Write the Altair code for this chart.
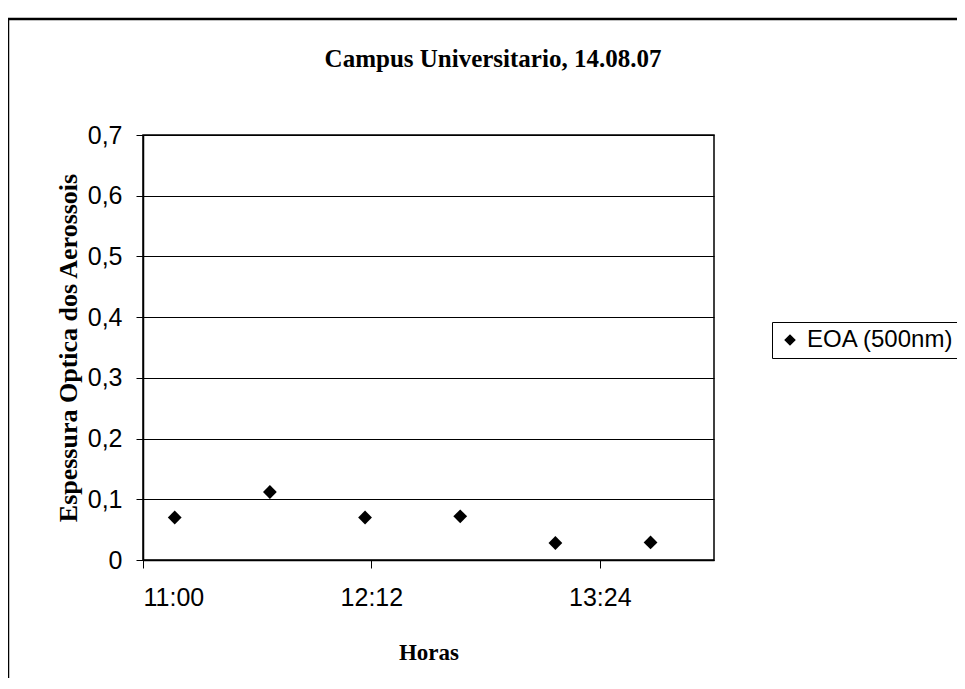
import altair as alt
import pandas as pd

# data
times = ["11:10", "11:40", "12:10", "12:40", "13:10", "13:40"]
eoa = [0.070, 0.112, 0.070, 0.072, 0.028, 0.029]
series_name = "EOA (500nm)"
chart_title = "Campus Universitario, 14.08.07"
x_tick_minutes = [660, 732, 804]          # 11:00, 12:12, 13:24
x_domain = [660, 840]                      # 11:00 .. 14:00
y_ticks = [0, 0.1, 0.2, 0.3, 0.4, 0.5, 0.6, 0.7]

def to_min(t):
    h, m = t.split(":")
    return int(h) * 60 + int(m)

df = pd.DataFrame({
    "Hora": times,
    "Minutos": [to_min(t) for t in times],
    "EOA": eoa,
    "Serie": [series_name] * len(times),
})

SERIF = "Liberation Serif"
SANS = "Liberation Sans"

W, H = 571, 425
PAD = {"left": 135, "top": 127, "right": 243, "bottom": 118}

points = alt.Chart(df).mark_point(shape="diamond", filled=True, size=190, opacity=1).encode(
    x=alt.X("Minutos:Q",
            scale=alt.Scale(domain=x_domain, nice=False, zero=False),
            axis=alt.Axis(values=x_tick_minutes, grid=False,
                          labelExpr="floor(datum.value/60) + ':' + (datum.value%60 < 10 ? '0' : '') + (datum.value%60)",
                          title="Horas", tickSize=8, labelPadding=17, titlePadding=31,
                          titleFontSize=23)),
    y=alt.Y("EOA:Q",
            scale=alt.Scale(domain=[0, 0.7], nice=False),
            axis=alt.Axis(values=y_ticks, grid=True, tickSize=7, labelPadding=14,
                          labelExpr="replace(format(datum.value, '.1~f'), '.', ',')",
                          title="Espessura Optica dos Aerossois", titlePadding=6,
                          titleFontSize=26)),
    color=alt.Color("Serie:N",
                    scale=alt.Scale(domain=[series_name], range=["black"]),
                    legend=alt.Legend(title=None, orient="none", legendX=629, legendY=187,
                                      strokeColor="black", padding=6, symbolType="diamond",
                                      symbolSize=90, symbolFillColor="black", symbolStrokeColor="black",
                                      labelFont=SANS, labelFontSize=24, labelColor="black",
                                      labelOffset=5)),
)

frame = alt.Chart(pd.DataFrame({"f": [0]})).mark_rect(fill=None, stroke="black", strokeWidth=2.5).encode(
    x=alt.value(-135), x2=alt.value(1000), y=alt.value(-116), y2=alt.value(700)
)

title = alt.Chart(pd.DataFrame({"t": [chart_title]})).mark_text(
    font=SERIF, fontSize=25, fontWeight="bold", color="black", align="center", baseline="alphabetic"
).encode(text="t:N", x=alt.value(350), y=alt.value(-68))

chart = alt.layer(frame, points, title).properties(
    width=W, height=H,
    autosize=alt.AutoSizeParams(type="none"),
    padding=PAD,
    background="white",
).configure_view(
    stroke="black", strokeWidth=1.5
).configure_axis(
    domainColor="black", tickColor="black", gridColor="black", gridWidth=1.2, gridOpacity=1,
    domainWidth=1.5, labelFont=SANS, labelFontSize=25, labelColor="black",
    titleFont=SERIF, titleFontSize=22, titleFontWeight="bold", titleColor="black",
)

chart.save("out.html", embed_options={"renderer": "svg", "actions": False})
